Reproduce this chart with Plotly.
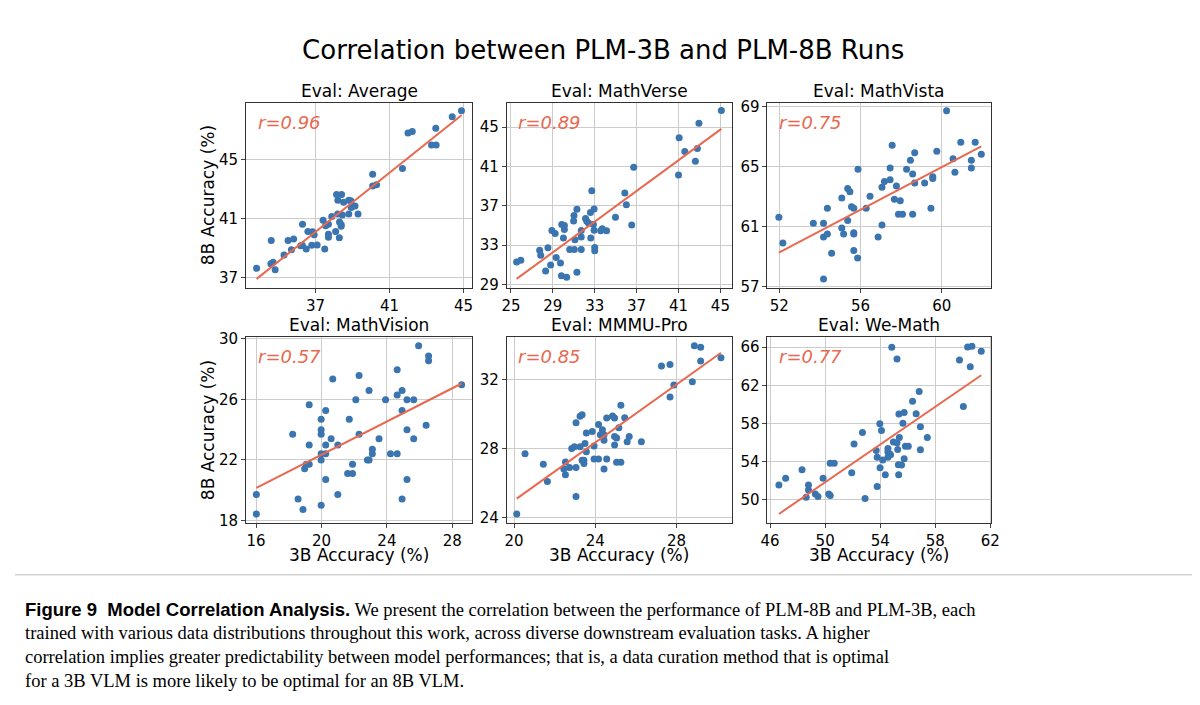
import numpy as np
import plotly.graph_objects as go
from plotly.subplots import make_subplots

# valores (3B, 8B)
avg_x = [33.82, 34.61, 34.59, 34.71, 34.82, 35.30, 35.52, 35.70, 35.82, 36.20, 36.30, 36.29, 36.50, 36.59, 36.80, 36.84, 37.09, 36.93, 37.41, 37.50, 37.55, 37.70, 37.70, 37.70, 37.88, 38.09, 38.20, 38.21, 38.14, 38.41, 38.29, 38.30, 38.39, 38.39, 38.45, 38.52, 38.80, 38.91, 38.80, 38.93, 39.04, 39.14, 39.30, 40.09, 40.09, 40.30, 41.70, 42.00, 42.23, 43.27, 43.52, 43.50, 44.39, 44.89]
avg_y = [37.64, 39.53, 37.95, 38.06, 37.55, 38.54, 39.53, 38.89, 39.62, 39.16, 40.63, 39.20, 38.94, 40.13, 39.20, 40.11, 39.22, 39.91, 40.90, 38.94, 40.52, 40.63, 39.75, 39.95, 41.14, 40.13, 41.32, 42.24, 42.64, 42.64, 39.71, 40.77, 40.61, 40.48, 41.25, 42.11, 42.24, 42.22, 41.32, 41.76, 41.85, 41.85, 41.32, 44.00, 43.21, 43.30, 44.40, 46.80, 46.89, 45.99, 45.99, 47.11, 47.90, 48.30]

mverse_x = [25.54, 25.94, 27.74, 27.84, 28.53, 28.31, 28.79, 28.91, 29.22, 29.32, 29.73, 29.82, 29.85, 30.10, 30.10, 30.01, 30.32, 30.61, 31.05, 30.98, 31.02, 31.30, 31.11, 31.30, 31.71, 31.71, 31.71, 32.12, 32.24, 32.40, 32.59, 32.72, 32.62, 32.94, 32.87, 32.94, 33.00, 33.00, 33.57, 33.72, 34.13, 34.98, 35.87, 36.02, 36.53, 36.72, 41.00, 41.06, 41.60, 42.61, 42.80, 42.95, 45.09]
mverse_y = [31.26, 31.46, 32.46, 31.96, 32.72, 30.36, 30.96, 34.48, 34.18, 31.72, 31.16, 29.86, 35.08, 34.98, 34.58, 33.72, 29.73, 32.55, 32.55, 35.45, 36.01, 36.64, 33.55, 30.23, 34.48, 33.82, 32.55, 35.71, 35.41, 35.25, 36.31, 38.53, 33.72, 36.67, 35.08, 34.51, 32.75, 32.42, 34.45, 34.65, 34.45, 35.84, 38.30, 37.11, 35.05, 40.93, 40.13, 43.92, 42.52, 41.53, 42.82, 45.41, 46.71]

mvista_x = [51.98, 52.18, 53.68, 54.18, 54.18, 54.18, 54.37, 54.37, 54.58, 55.08, 55.08, 55.17, 55.37, 55.37, 55.48, 55.56, 55.67, 55.67, 55.67, 55.67, 55.86, 55.88, 56.28, 56.47, 56.87, 57.06, 57.06, 57.18, 57.46, 57.46, 57.56, 57.67, 57.77, 57.87, 57.96, 58.07, 58.27, 58.46, 58.57, 58.57, 58.67, 58.67, 59.16, 59.47, 59.56, 59.56, 59.76, 60.24, 60.56, 60.65, 60.94, 61.46, 61.46, 61.65, 61.95]
mvista_y = [61.63, 59.91, 61.22, 61.22, 60.30, 57.50, 60.50, 62.22, 59.22, 62.91, 60.91, 60.50, 61.41, 63.54, 63.33, 62.33, 62.22, 60.59, 60.50, 59.41, 58.91, 64.83, 62.22, 63.02, 60.30, 61.11, 63.63, 64.02, 64.13, 64.91, 66.43, 62.83, 63.72, 61.83, 62.72, 61.83, 64.83, 65.43, 61.83, 64.52, 63.91, 65.93, 63.91, 62.22, 64.33, 64.22, 66.04, 68.74, 65.54, 64.63, 66.63, 65.43, 64.91, 66.63, 65.83]

mvision_x = [16.02, 16.02, 18.24, 18.57, 18.87, 18.97, 19.07, 19.25, 19.25, 19.25, 19.98, 19.98, 19.98, 19.98, 19.98, 19.98, 20.26, 20.26, 20.26, 20.26, 20.59, 20.69, 21.00, 21.00, 21.60, 21.70, 21.90, 21.90, 22.10, 22.30, 22.30, 22.81, 22.91, 22.91, 23.11, 23.11, 23.52, 23.92, 24.22, 24.63, 24.63, 24.63, 24.93, 24.93, 24.93, 25.23, 25.23, 25.23, 25.64, 25.64, 25.94, 26.55, 26.55, 26.40, 28.57]
mvision_y = [19.70, 18.41, 23.69, 19.40, 18.71, 21.41, 21.71, 25.65, 22.98, 21.71, 24.68, 23.99, 23.69, 22.40, 21.99, 18.99, 25.26, 22.98, 22.40, 20.69, 23.39, 27.35, 22.98, 19.70, 21.10, 24.68, 21.10, 21.71, 25.97, 27.57, 23.69, 21.99, 26.58, 21.99, 22.70, 22.40, 23.39, 25.97, 22.40, 22.40, 27.96, 26.28, 26.58, 25.26, 19.40, 23.99, 25.97, 20.69, 25.97, 23.39, 29.55, 28.86, 28.56, 24.29, 26.97]

mmmu_x = [20.13, 20.54, 21.44, 21.64, 22.45, 22.53, 22.53, 22.73, 22.84, 22.97, 23.05, 23.05, 23.05, 23.25, 23.25, 23.35, 23.35, 23.44, 23.44, 23.49, 23.56, 23.56, 23.85, 23.94, 23.94, 24.16, 24.16, 24.25, 24.35, 24.43, 24.43, 24.43, 24.56, 24.56, 24.85, 24.95, 24.95, 24.95, 25.05, 25.05, 25.16, 25.26, 25.26, 25.45, 25.57, 25.67, 26.27, 27.26, 27.68, 27.68, 27.87, 28.78, 28.88, 29.19, 29.19, 30.19]
mmmu_y = [24.19, 27.70, 27.09, 26.09, 26.81, 26.48, 27.22, 26.90, 28.00, 28.11, 29.50, 26.90, 25.21, 28.11, 29.88, 29.97, 27.32, 27.32, 27.13, 28.30, 28.91, 27.81, 29.00, 28.15, 27.39, 29.40, 27.39, 28.80, 29.10, 28.49, 26.81, 28.80, 29.78, 27.39, 29.90, 29.78, 28.21, 28.70, 28.61, 27.20, 29.21, 30.52, 27.20, 29.80, 28.40, 28.70, 28.40, 32.80, 32.89, 31.00, 31.70, 31.89, 33.99, 33.90, 33.10, 33.29]

wemath_x = [46.64, 47.13, 48.32, 48.62, 48.79, 48.79, 49.29, 49.48, 49.85, 50.26, 50.37, 50.37, 50.66, 51.93, 52.10, 52.71, 52.90, 53.71, 53.78, 53.78, 53.97, 53.99, 54.09, 54.18, 54.37, 54.56, 54.56, 54.56, 54.70, 54.75, 54.84, 54.96, 55.22, 55.22, 55.27, 55.32, 55.34, 55.36, 55.39, 55.55, 55.65, 55.74, 55.74, 55.83, 56.04, 56.61, 56.35, 56.83, 56.92, 56.92, 57.42, 59.76, 60.04, 60.35, 60.54, 60.66, 61.34]
wemath_y = [51.51, 52.23, 53.12, 50.21, 51.51, 50.99, 50.55, 50.31, 52.23, 50.55, 50.41, 53.80, 53.80, 52.81, 55.82, 57.02, 50.10, 55.14, 54.42, 51.34, 57.95, 53.32, 57.23, 54.14, 52.60, 55.34, 54.97, 54.42, 54.76, 54.69, 65.99, 56.03, 55.96, 64.76, 55.24, 53.63, 52.60, 58.97, 56.51, 53.60, 58.01, 59.14, 54.28, 55.58, 55.58, 59.01, 60.31, 61.34, 57.64, 55.21, 56.51, 64.66, 59.76, 66.03, 63.94, 66.10, 65.58]

paineis = [
    ("Eval: Average", avg_x, avg_y, "r=0.96", [33.25, 45.48], [36.34, 48.85], [37, 41, 45], [37, 41, 45]),
    ("Eval: MathVerse", mverse_x, mverse_y, "r=0.89", [24.6, 46.1], [28.67, 47.5], [25, 29, 33, 37, 41, 45], [29, 33, 37, 41, 45]),
    ("Eval: MathVista", mvista_x, mvista_y, "r=0.75", [51.42, 62.45], [56.93, 69.28], [52, 56, 60], [57, 61, 65, 69]),
    ("Eval: MathVision", mvision_x, mvision_y, "r=0.57", [15.39, 29.23], [17.83, 30.11], [16, 20, 24, 28], [18, 22, 26, 30]),
    ("Eval: MMMU-Pro", mmmu_x, mmmu_y, "r=0.85", [19.64, 30.73], [23.68, 34.48], [20, 24, 28], [24, 28, 32]),
    ("Eval: We-Math", wemath_x, wemath_y, "r=0.77", [45.81, 62.08], [47.53, 67.05], [46, 50, 54, 58, 62], [50, 54, 58, 62, 66]),
]

dom_x = [[0.195, 0.386], [0.415, 0.605], [0.635, 0.824]]
dom_y = [[0.605, 0.873], [0.264, 0.533]]

AZUL = "#3a75af"
LARANJA = "#e8694f"

fig = make_subplots(rows=2, cols=3)

for i, (titulo, xs, ys, rtxt, xr, yr, xt, yt) in enumerate(paineis):
    lin, col = i // 3 + 1, i % 3 + 1
    xs = np.array(xs)
    ys = np.array(ys)
    a, b = np.polyfit(xs, ys, 1)
    xl = np.array([xs.min(), xs.max()])
    fig.add_trace(go.Scatter(x=xs, y=ys, mode="markers",
                             marker=dict(color=AZUL, size=7), showlegend=False), row=lin, col=col)
    fig.add_trace(go.Scatter(x=xl, y=a * xl + b, mode="lines",
                             line=dict(color=LARANJA, width=2), showlegend=False), row=lin, col=col)
    n = "" if i == 0 else str(i + 1)
    eixo = dict(showline=True, linecolor="#333", linewidth=1, mirror=True,
                gridcolor="#cccccc", zeroline=False, ticks="outside", ticklen=4,
                tickfont=dict(size=15, color="black"))
    fig.update_layout({
        "xaxis" + n: dict(eixo, domain=dom_x[col - 1], range=xr, tickvals=xt),
        "yaxis" + n: dict(eixo, domain=dom_y[lin - 1], range=yr, tickvals=yt),
    })
    xd, yd = dom_x[col - 1], dom_y[lin - 1]
    fig.add_annotation(x=(xd[0] + xd[1]) / 2, y=yd[1], xref="paper", yref="paper",
                       text=titulo, showarrow=False, xanchor="center", yanchor="bottom", yshift=0,
                       font=dict(size=17, color="black"))
    fig.add_annotation(x=xd[0] + 0.008, y=yd[1] - 0.01, xref="paper", yref="paper",
                       text="<i>" + rtxt + "</i>", showarrow=False, xanchor="left", yanchor="top",
                       font=dict(size=18, color=LARANJA))

for r in range(2):
    fig.add_annotation(x=0.163, y=sum(dom_y[r]) / 2, xref="paper", yref="paper",
                       text="8B Accuracy (%)", textangle=-90, showarrow=False,
                       xanchor="center", yanchor="middle",
                       font=dict(size=17, color="black"))
for c in range(3):
    fig.add_annotation(x=sum(dom_x[c]) / 2, y=0.218, xref="paper", yref="paper",
                       text="3B Accuracy (%)", showarrow=False,
                       xanchor="center", yanchor="middle",
                       font=dict(size=17, color="black"))

# legenda da figura
serif = "Liberation Serif, DejaVu Serif, serif"
linhas = [
    "<span style='font-family:Liberation Sans'><b>Figure 9  Model Correlation Analysis.</b></span> We present the correlation between the performance of PLM-8B and PLM-3B, each",
    "trained with various data distributions throughout this work, across diverse downstream evaluation tasks. A higher",
    "correlation implies greater predictability between model performances; that is, a data curation method that is optimal",
    "for a 3B VLM is more likely to be optimal for an 8B VLM.",
]
for k, txt in enumerate(linhas):
    fig.add_annotation(x=0.007, y=1 - (607 + 24.5 * k) / 705, xref="paper", yref="paper",
                       text=txt, showarrow=False, xanchor="left", yanchor="middle",
                       font=dict(size=18.5, color="black", family=serif))

fig.add_shape(type="line", xref="paper", yref="paper", x0=0.0, x1=1.0,
              y0=1 - 572 / 705, y1=1 - 572 / 705, line=dict(color="#bbbbbb", width=1))

fig.update_layout(
    width=1200, height=705,
    margin=dict(l=0, r=0, t=0, b=0),
    paper_bgcolor="white", plot_bgcolor="white",
    font=dict(family="DejaVu Sans, sans-serif"),
    title=dict(text="Correlation between PLM-3B and PLM-8B Runs", x=0.496, xanchor="center",
               y=1 - 42 / 705, yanchor="middle", font=dict(size=26, color="black")),
)

fig.write_html("out.html")
